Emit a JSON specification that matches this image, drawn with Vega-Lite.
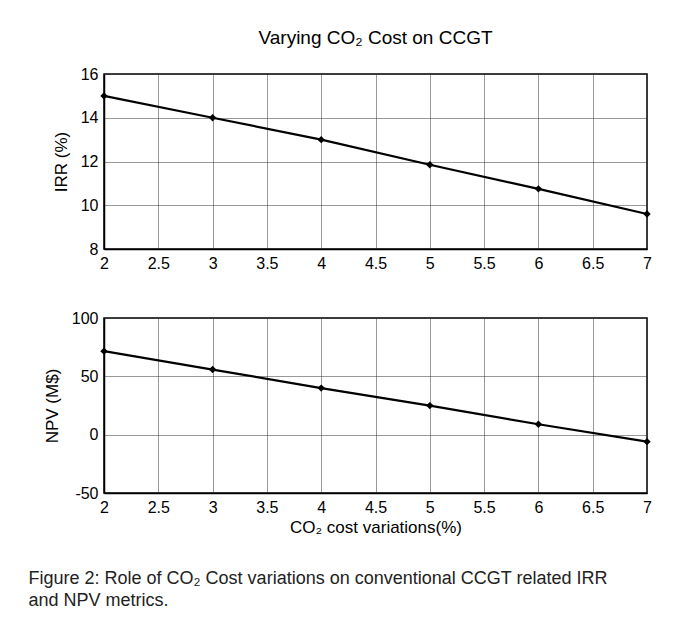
{
  "$schema": "https://vega.github.io/schema/vega-lite/v6.json",
  "background": "white",
  "padding": {"left": 28, "top": 28, "right": 20, "bottom": 10},
  "title": {
    "text": ["Figure 2: Role of CO₂ Cost variations on conventional CCGT related IRR", "and NPV metrics."],
    "orient": "bottom",
    "anchor": "start",
    "font": "Liberation Sans",
    "fontSize": 18,
    "fontWeight": "normal",
    "color": "#222",
    "offset": 34,
    "lineHeight": 22,
    "dx": -14
  },
  "datasets": {
    "d": [
      {"co2": 2, "irr": 15.0, "npv": 71.6},
      {"co2": 3, "irr": 14.0, "npv": 55.8},
      {"co2": 4, "irr": 13.0, "npv": 39.9},
      {"co2": 5, "irr": 11.85, "npv": 24.9},
      {"co2": 6, "irr": 10.75, "npv": 8.9},
      {"co2": 7, "irr": 9.6, "npv": -6.0}
    ]
  },
  "spacing": 37,
  "vconcat": [
    {
      "width": 543,
      "height": 175,
      "title": {"text": "Varying CO₂ Cost on CCGT", "font": "Liberation Sans", "fontSize": 19, "fontWeight": "normal", "color": "black", "offset": 18},
      "data": {"name": "d"},
      "encoding": {
        "x": {"field": "co2", "type": "quantitative", "scale": {"domain": [2, 7], "nice": false}, "axis": {"values": [2, 2.5, 3, 3.5, 4, 4.5, 5, 5.5, 6, 6.5, 7], "format": "~g", "title": null}},
        "y": {"field": "irr", "type": "quantitative", "scale": {"domain": [8, 16], "nice": false, "zero": false}, "axis": {"values": [8, 10, 12, 14, 16], "title": "IRR (%)"}}
      },
      "layer": [
        {"mark": {"type": "line", "color": "black", "strokeWidth": 2.2}},
        {"mark": {"type": "point", "shape": "diamond", "filled": true, "color": "black", "opacity": 1, "size": 55}}
      ]
    },
    {
      "width": 543,
      "height": 175,
      "data": {"name": "d"},
      "encoding": {
        "x": {"field": "co2", "type": "quantitative", "scale": {"domain": [2, 7], "nice": false}, "axis": {"values": [2, 2.5, 3, 3.5, 4, 4.5, 5, 5.5, 6, 6.5, 7], "format": "~g", "title": "CO₂ cost variations(%)", "titlePadding": 4}},
        "y": {"field": "npv", "type": "quantitative", "scale": {"domain": [-50, 100], "nice": false, "zero": false}, "axis": {"values": [-50, 0, 50, 100], "title": "NPV (M$)", "labelExpr": "replace(datum.label, '−', '-')"}}
      },
      "layer": [
        {"mark": {"type": "line", "color": "black", "strokeWidth": 2.2}},
        {"mark": {"type": "point", "shape": "diamond", "filled": true, "color": "black", "opacity": 1, "size": 55}}
      ]
    }
  ],
  "config": {
    "font": "Liberation Sans",
    "view": {"stroke": "black", "strokeWidth": 1.5},
    "axis": {
      "labelFont": "Liberation Sans",
      "labelFontSize": 16,
      "labelColor": "black",
      "titleFont": "Liberation Sans",
      "titleFontSize": 17,
      "titleFontWeight": "normal",
      "titleColor": "black",
      "titlePadding": 10,
      "domainColor": "black",
      "domainWidth": 1.5,
      "ticks": false,
      "grid": true,
      "gridColor": "#333",
      "gridDash": [1, 1],
      "gridOpacity": 1,
      "gridWidth": 1,
      "labelPadding": 6,
      "labelFlush": false
    }
  }
}
